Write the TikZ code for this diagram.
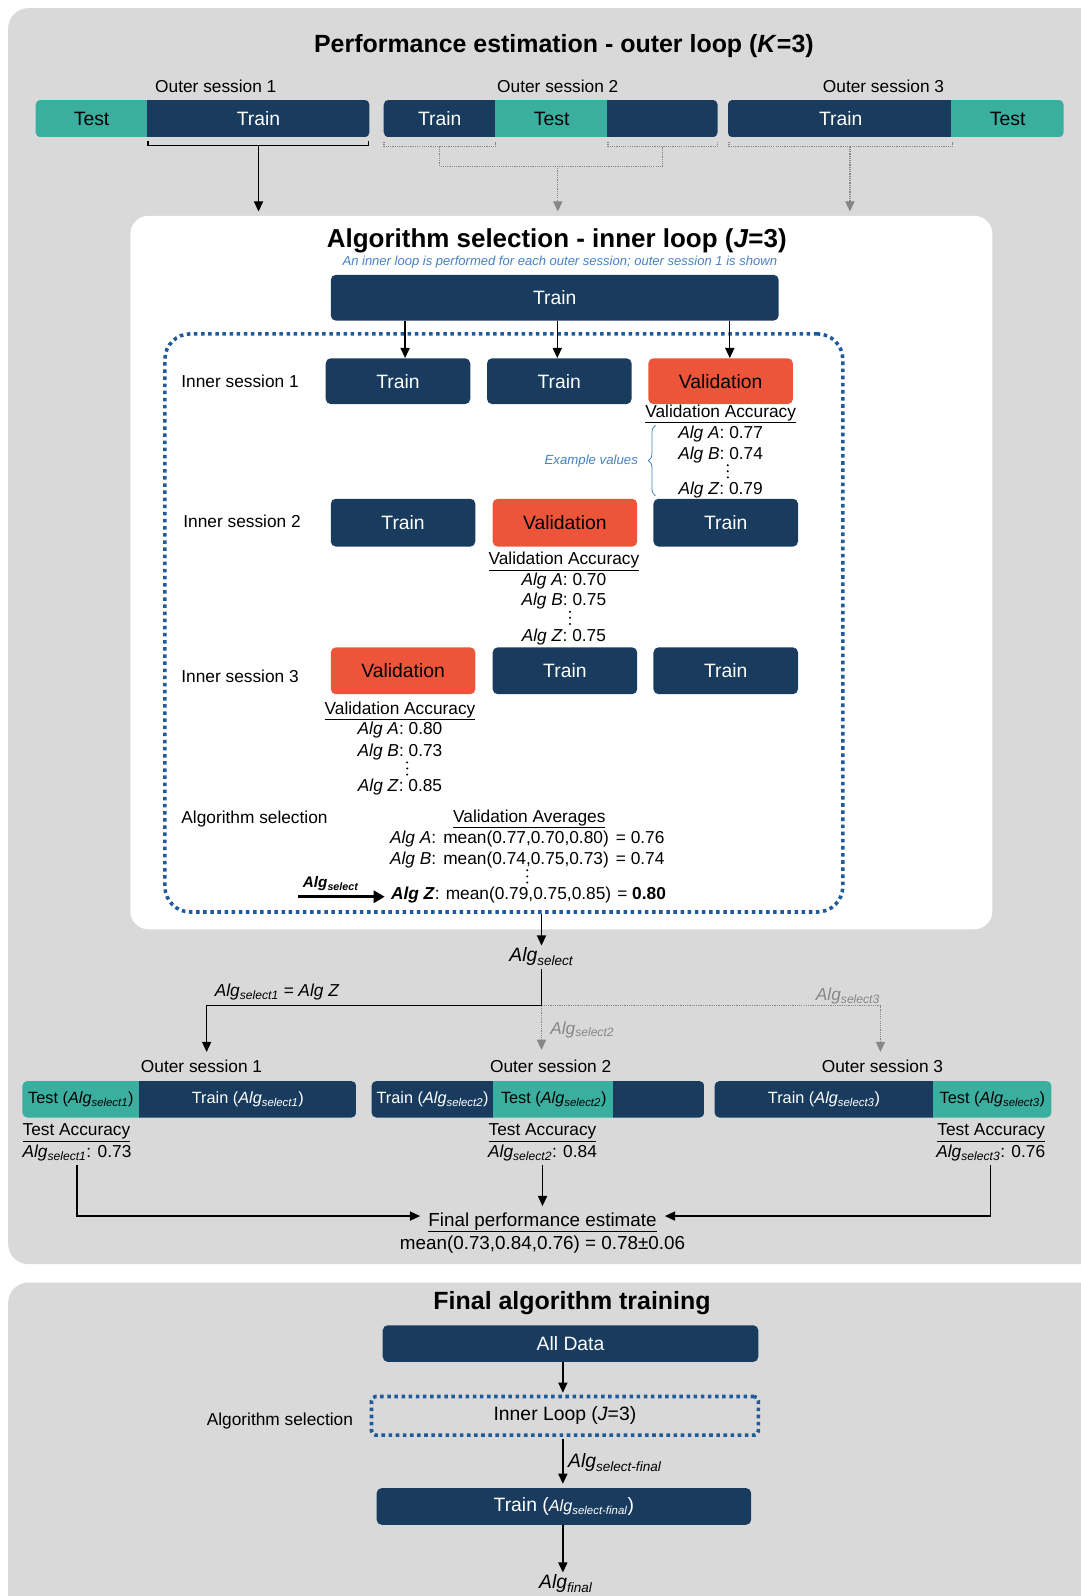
\documentclass[tikz,border=0pt]{standalone}
\usepackage{fontspec}
\setmainfont{Liberation Sans}
\usetikzlibrary{arrows.meta,decorations.pathreplacing,calc}

\definecolor{navy}{RGB}{24,59,94}
\definecolor{tealc}{RGB}{58,175,160}
\definecolor{orangec}{RGB}{236,85,58}
\definecolor{panelgray}{RGB}{217,217,217}
\definecolor{dotblue}{RGB}{31,90,155}
\definecolor{subblue}{RGB}{70,130,195}
\definecolor{grayarr}{RGB}{135,135,135}

\newcommand{\alg}[1]{\textit{Alg}\textsubscript{\textit{#1}}}
\newcommand{\fsz}[2]{\fontsize{#1}{#2}\selectfont}

\tikzset{
 txt/.style={inner sep=0pt, font=\fsz{17}{20}, anchor=base},
 ttl/.style={inner sep=0pt, font=\fsz{24.5}{28}\bfseries, anchor=base},
 seg/.style={rectangle, inner sep=0pt, minimum height=37, font=\fsz{19}{22}},
 bseg/.style={rectangle, inner sep=0pt, minimum height=36, font=\fsz{16}{19}},
 navyf/.style={fill=navy, text=white},
 tealf/.style={fill=tealc, text=black},
 box/.style={rectangle, rounded corners=5, inner sep=0pt, minimum width=142, minimum height=45, font=\fsz{19}{22}},
 trainbox/.style={box, fill=navy, text=white},
 valbox/.style={box, fill=orangec, text=black},
 arr/.style={-{Triangle[length=10pt,width=9pt]}, line width=1.3pt},
 garr/.style={-{Triangle[length=10pt,width=9pt]}, line width=1.2pt, densely dotted, draw=grayarr},
 gline/.style={line width=1.2pt, densely dotted, draw=grayarr},
 bdot/.style={draw=dotblue, line width=3.5pt, dash pattern=on 3.5pt off 3.5pt},
 vdot/.style={fill=black},
}
\newcommand{\vdotsat}[2]{\foreach \k in {0,6,12} {\fill[vdot] (#1,#2+\k) circle (1.1pt);}}

\begin{document}
\begin{tikzpicture}[x=1pt,y=-1pt]
\useasboundingbox (0,0) rectangle (1062,1568);
\fill[white] (0,0) rectangle (1062,1568);

% ---------- panels ----------
\fill[panelgray, rounded corners=20] (8,8) rectangle (1100,1242);
\fill[panelgray, rounded corners=20] (8,1260) rectangle (1100,1620);

% ---------- outer loop ----------
\node[ttl] (t1) at (554,52) {Performance estimation - outer loop (\textit{K}=3)};

\node[txt] (os1) at (212,91) {Outer session 1};
\node[txt] (os2) at (548,91) {Outer session 2};
\node[txt] (os3) at (868,91) {Outer session 3};

\begin{scope}
\clip[rounded corners=5] (35,98) rectangle (363,135);
\node[seg, tealf, minimum width=111] (o1test) at (90,116.5) {Test};
\node[seg, navyf, minimum width=219] (o1train) at (254,116.5) {Train};
\end{scope}
\begin{scope}
\clip[rounded corners=5] (377,98) rectangle (705,135);
\node[seg, navyf, minimum width=111] (o2a) at (432,116.5) {Train};
\node[seg, tealf, minimum width=111] (o2test) at (542,116.5) {Test};
\node[seg, navyf, minimum width=109] (o2b) at (651,116.5) {};
\end{scope}
\begin{scope}
\clip[rounded corners=5] (715,98) rectangle (1045,135);
\node[seg, navyf, minimum width=221] (o3train) at (826,116.5) {Train};
\node[seg, tealf, minimum width=111] (o3test) at (990,116.5) {Test};
\end{scope}

% inner white panel
\node[fill=white, rounded corners=18, minimum width=847, minimum height=701, inner sep=0pt] (inner) at (551.5,562.5) {};

% brackets
\draw[line width=1.3pt] ($(o1train.south west)+(1,3)$) -- ++(0,5) -| ($(o1train.south east)+(-2,3)$);
\coordinate (b1) at ($(o1train.south)+(0,8)$);
\draw[arr] (b1) -- ($(b1 |- inner.north)+(0,-4)$);

\draw[gline] ($(o2a.south west)+(1,4)$) -- ++(0,5) -| ($(o2a.south east)+(-1,4)$);
\draw[gline] ($(o2b.south west)+(1,4)$) -- ++(0,5) -| ($(o2b.south east)+(-1,4)$);
\draw[gline] ($(o2a.south)+(0,9)$) -- ++(0,19) -| ($(o2b.south)+(0,9)$);
\coordinate (b2) at (548,163);
\draw[garr] (b2) -- ($(b2 |- inner.north)+(0,-4)$);

\draw[gline] ($(o3train.south west)+(1,4)$) -- ++(0,5) -| ($(o3train.south east)+(-1,4)$);
\coordinate (b3) at (835,144);
\draw[garr] (b3) -- ($(b3 |- inner.north)+(0,-4)$);

% ---------- inner loop ----------
\node[ttl, font=\fsz{25.5}{30}\bfseries] (t2) at (547,243) {Algorithm selection - inner loop (\textit{J}=3)};
\node[inner sep=0pt, anchor=base, font=\fsz{12.8}{15}\itshape, text=subblue] (sub) at (550,260.5) {An inner loop is performed for each outer session; outer session 1 is shown};

\node[trainbox, minimum width=440] (itrain) at (545,292.5) {Train};

\node[bdot, rectangle, rounded corners=25, minimum width=666, minimum height=568, inner sep=0pt] (dotbox) at (495,612) {};

% row 1
\node[txt, anchor=base west] (is1) at (178,381) {Inner session 1};
\node[trainbox] (r1a) at (391,374.5) {Train};
\node[trainbox] (r1b) at (549.5,374.5) {Train};
\node[valbox] (r1c) at (708,374.5) {Validation};
\draw[arr] ([xshift=7pt]itrain.south -| r1a.north) -- ([xshift=7pt]r1a.north);
\draw[arr] ([xshift=-2pt]itrain.south -| r1b.north) -- ([xshift=-2pt]r1b.north);
\draw[arr] ([xshift=9pt]itrain.south -| r1c.north) -- ([xshift=9pt]r1c.north);

\node[txt] (va1) at (708,410) {\underline{Validation Accuracy}};
\node[txt] (a1a) at (708,431) {\textit{Alg A}: 0.77};
\node[txt] (a1b) at (708,451) {\textit{Alg B}: 0.74};
\vdotsat{715}{457}
\node[txt] (a1z) at (708,486) {\textit{Alg Z}: 0.79};
\draw[subblue, line width=0.8pt, decorate, decoration={brace, amplitude=7pt}] (644,487) -- (644,418);
\node[inner sep=0pt, font=\fsz{13}{15}\itshape, text=subblue, anchor=base east] (ex) at (627,456.5) {Example values};

% row 2
\node[txt, anchor=base west] (is2) at (180,518) {Inner session 2};
\node[trainbox, minimum height=47] (r2a) at (396,513.5) {Train};
\node[valbox, minimum height=47] (r2b) at (555,513.5) {Validation};
\node[trainbox, minimum height=47] (r2c) at (713,513.5) {Train};

\node[txt] (va2) at (554,555) {\underline{Validation Accuracy}};
\node[txt] (a2a) at (554,575) {\textit{Alg A}: 0.70};
\node[txt] (a2b) at (554,595) {\textit{Alg B}: 0.75};
\vdotsat{560}{601}
\node[txt] (a2z) at (554,630) {\textit{Alg Z}: 0.75};

% row 3
\node[txt, anchor=base west] (is3) at (178,671) {Inner session 3};
\node[valbox, minimum height=46] (r3a) at (396,659) {Validation};
\node[trainbox, minimum height=46] (r3b) at (555,659) {Train};
\node[trainbox, minimum height=46] (r3c) at (713,659) {Train};

\node[txt] (va3) at (393,702) {\underline{Validation Accuracy}};
\node[txt] (a3a) at (393,722) {\textit{Alg A}: 0.80};
\node[txt] (a3b) at (393,743) {\textit{Alg B}: 0.73};
\vdotsat{400}{749}
\node[txt] (a3z) at (393,778) {\textit{Alg Z}: 0.85};

% algorithm selection
\node[txt, anchor=base west] (asl) at (178,809) {Algorithm selection};
\node[txt] (vavg) at (520,808) {\underline{Validation Averages}};
\node[txt, anchor=base west] (avA) at (383,829) {\textit{Alg A}:\hspace{7pt}mean(0.77,0.70,0.80)\hspace{7pt}= 0.76};
\node[txt, anchor=base west] (avB) at (383,849) {\textit{Alg B}:\hspace{7pt}mean(0.74,0.75,0.73)\hspace{7pt}= 0.74};
\vdotsat{518}{855}
\node[txt, anchor=base west] (avZ) at (384,884) {\textbf{\textit{Alg Z}}:\hspace{6pt}mean(0.79,0.75,0.85)\hspace{6pt}= \textbf{0.80}};
\node[inner sep=0pt, font=\fsz{15}{18}\bfseries] (sellbl) at (325,868) {\alg{select}};
\coordinate (selstart) at (293,881);
\coordinate (selend) at ($(selstart -| avZ.west)+(-6,0)$);
\draw[line width=3pt, -{Triangle[length=11pt,width=12pt]}] (selstart) -- (selend);

% ---------- selected algorithm ----------
\node[inner sep=0pt, font=\fsz{19}{22}] (algsel) at (532,940) {\alg{select}};
\draw[arr] (dotbox.south -| algsel.north) -- ([yshift=2pt]algsel.north);
\coordinate (split) at (532,988);

\node[txt] (os1b) at (198,1054) {Outer session 1};
\node[txt] (os2b) at (541,1054) {Outer session 2};
\node[txt] (os3b) at (867,1054) {Outer session 3};

\draw[garr] (split) -| ([xshift=-2pt,yshift=8pt]os3b.north);
\draw[garr] (split) -- ([yshift=10pt]split |- os2b.north);
\draw[arr] ([yshift=-3pt]algsel.south) -- (split) -| ([xshift=5pt,yshift=8pt]os1b.north);

\node[txt, font=\fsz{17}{20}\itshape] (l1) at (272,979) {\alg{select1} = \textit{Alg Z}};
\node[txt, text=grayarr] (l3) at (833,983) {\alg{select3}};
\node[txt, text=grayarr] (l2) at (572,1016) {\alg{select2}};

% bottom bars
\begin{scope}
\clip[rounded corners=5] (22,1062) rectangle (350,1098);
\node[bseg, tealf, minimum width=116] (p1test) at (79.5,1080) {Test (\alg{select1})};
\node[bseg, navyf, minimum width=214] (p1train) at (243.5,1080) {Train (\alg{select1})};
\end{scope}
\begin{scope}
\clip[rounded corners=5] (365,1062) rectangle (692,1098);
\node[bseg, navyf, minimum width=121] (p2a) at (425,1080) {Train (\alg{select2})};
\node[bseg, tealf, minimum width=119] (p2test) at (544,1080) {Test (\alg{select2})};
\node[bseg, navyf, minimum width=90] (p2b) at (647.5,1080) {};
\end{scope}
\begin{scope}
\clip[rounded corners=5] (702,1062) rectangle (1033,1098);
\node[bseg, navyf, minimum width=216] (p3train) at (809.5,1080) {Train (\alg{select3})};
\node[bseg, tealf, minimum width=117] (p3test) at (975,1080) {Test (\alg{select3})};
\end{scope}

\node[txt, anchor=base west] (ta1) at (22,1116) {\underline{Test Accuracy}};
\node[txt, anchor=base west] (tv1) at (22,1137) {\alg{select1}: 0.73};
\node[txt] (ta2) at (533,1116) {\underline{Test Accuracy}};
\node[txt] (tv2) at (533,1137) {\alg{select2}: 0.84};
\node[txt, anchor=base east] (ta3) at (1027,1116) {\underline{Test Accuracy}};
\node[txt, anchor=base east] (tv3) at (1027,1137) {\alg{select3}: 0.76};

\node[txt, font=\fsz{18.5}{21}] (fpe) at (533,1204.5) {\underline{Final performance estimate}};
\node[txt, font=\fsz{18.5}{21}] (fmean) at (533,1227.5) {mean(0.73,0.84,0.76) = 0.78±0.06};

\draw[arr] ([yshift=-4pt]tv1.south) |- ([xshift=-8pt,yshift=6pt]fpe.west);
\draw[arr] ([yshift=-4pt]tv2.south) -- ([yshift=6pt]fpe.north);
\draw[arr] ([yshift=-4pt]tv3.south) |- ([xshift=8pt,yshift=6pt]fpe.east);

% ---------- final training ----------
\node[ttl] (t3) at (562,1287) {Final algorithm training};
\node[box, fill=navy, text=white, minimum width=369, minimum height=36] (alldata) at (560.5,1320) {All Data};
\node[bdot, rectangle, rounded corners=4, minimum width=380, minimum height=38, inner sep=0pt, font=\fsz{19}{22}] (iloop) at (555,1391) {Inner Loop (\textit{J}=3)};
\node[txt] (asl2) at (275,1400) {Algorithm selection};
\node[box, fill=navy, text=white, minimum width=368, minimum height=36] (ftrain) at (554,1480) {Train ({\fsz{16}{18}\alg{select-final}})};
\node[inner sep=0pt, font=\fsz{19}{22}] (afinal) at (556,1556) {\alg{final}};
\coordinate (fx) at (553,0);
\draw[arr] (alldata.south -| fx) -- ([yshift=2pt]iloop.north -| fx);
\draw[arr] ([yshift=-2pt]iloop.south -| fx) -- ([yshift=4pt]ftrain.north -| fx);
\node[inner sep=0pt, font=\fsz{19}{22}, anchor=west] (asf) at (558,1437) {\alg{select-final}};
\draw[arr] (ftrain.south -| fx) -- ([yshift=2pt]afinal.north -| fx);
\end{tikzpicture}
\end{document}
